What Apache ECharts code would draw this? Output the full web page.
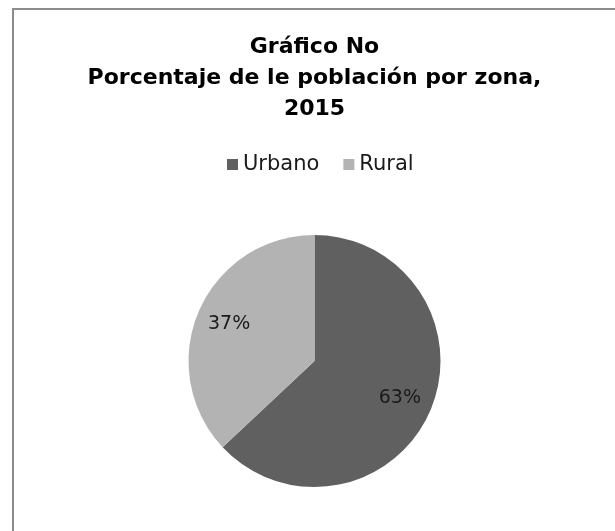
<!DOCTYPE html>
<html>
<head>
<meta charset="utf-8">
<script src="https://cdn.jsdelivr.net/npm/echarts@6/dist/echarts.min.js"></script>
<style>
  html, body { margin: 0; padding: 0; background: #fff; overflow: hidden; width: 615px; height: 531px; }
  #chart { position: absolute; left: 0; top: 0; width: 629px; height: 531px; }
</style>
</head>
<body>
<div id="chart"></div>
<script>
const titleLines = ['Gráfico No', 'Porcentaje de le población por zona,', '2015'];
const categories = ['Urbano', 'Rural'];
const shares = [63, 37];
const colors = ['#606060', '#b3b3b3'];

const pieData = categories.map((c, i) => ({ name: c, value: shares[i], itemStyle: { color: colors[i] } }));
const labelData = categories.map((c, i) => ({ name: c, value: shares[i] }));

const chart = echarts.init(document.getElementById('chart'), null, { renderer: 'canvas' });
chart.setOption({
  backgroundColor: '#fff',
  animation: false,
  title: {
    text: titleLines.join('\n'),
    left: 'center',
    top: 27,
    textStyle: {
      fontFamily: 'DejaVu Sans',
      fontWeight: 'bold',
      fontSize: 22,
      lineHeight: 31,
      color: '#000'
    }
  },
  legend: {
    data: categories,
    left: 222,
    top: 149,
    icon: 'rect',
    itemWidth: 11,
    itemHeight: 11,
    itemGap: 24,
    textStyle: { fontFamily: 'DejaVu Sans', fontSize: 21, color: '#1a1a1a' }
  },
  graphic: [{
    type: 'rect',
    shape: { x: 13, y: 9, width: 620, height: 620 },
    style: { fill: 'none', stroke: '#8c8c8c', lineWidth: 2 },
    silent: true,
    z: -10
  }],
  series: [
    {
      type: 'pie',
      center: ['50%', 361],
      radius: [0, 126],
      startAngle: 90,
      clockwise: true,
      label: { show: false },
      labelLine: { show: false },
      emphasis: { disabled: true },
      data: pieData
    },
    {
      type: 'pie',
      center: ['50%', 361],
      radius: [0, 180],
      startAngle: 90,
      clockwise: true,
      silent: true,
      itemStyle: { color: 'rgba(0,0,0,0)' },
      label: {
        show: true,
        position: 'inside',
        formatter: p => p.value + '%',
        fontFamily: 'DejaVu Sans',
        fontSize: 19,
        color: '#1a1a1a'
      },
      labelLine: { show: false },
      emphasis: { disabled: true },
      data: labelData
    }
  ]
});
</script>
</body>
</html>
